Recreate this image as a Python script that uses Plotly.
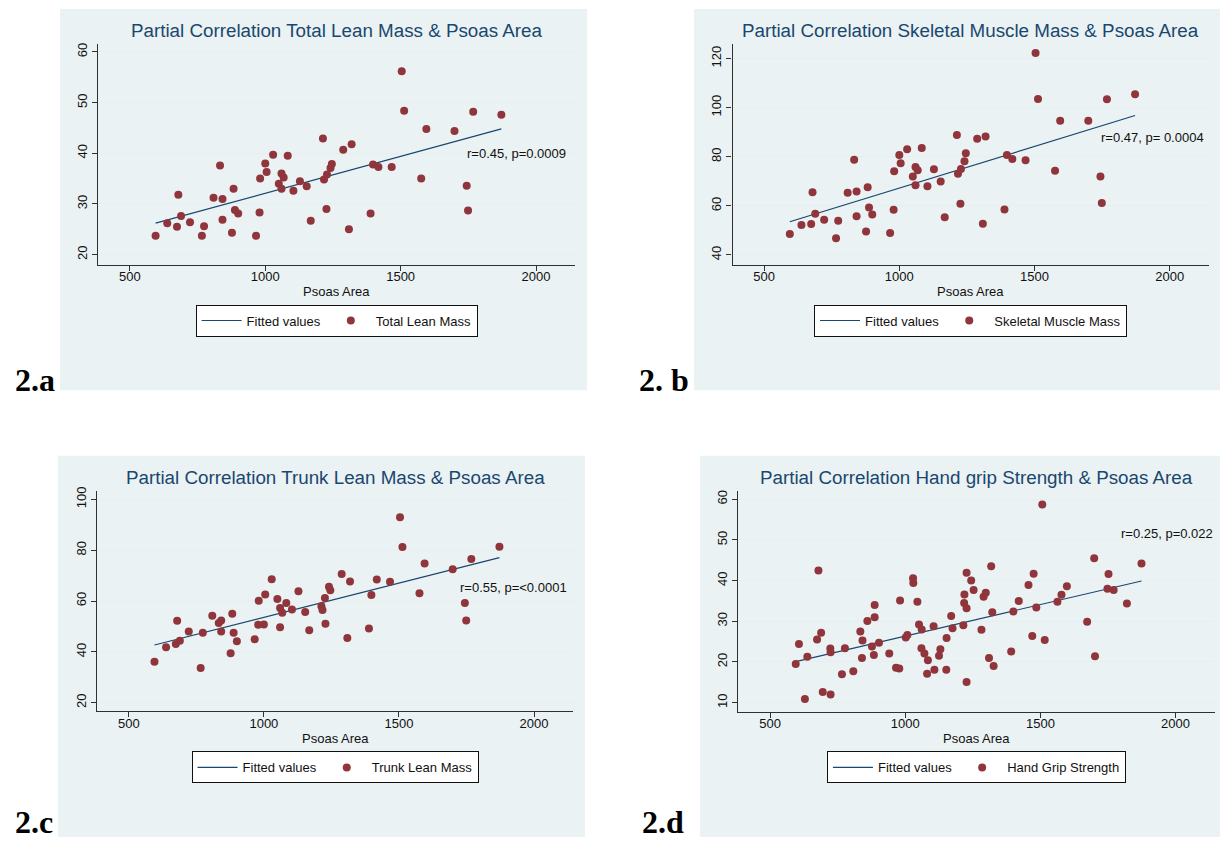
import plotly.graph_objects as go

W, H = 1220, 841

# ---------------- data ----------------
psoas = [595, 638, 674, 679, 689, 722, 766, 774, 809, 833, 842, 842, 877, 883, 888,
         900, 966, 979, 981, 1000, 1005, 1029, 1050, 1060, 1060, 1068, 1083, 1104, 1128, 1153,
         1168, 1213, 1217, 1226, 1228, 1241, 1246, 1288, 1309, 1319, 1389, 1398, 1418, 1467, 1504,
         1513, 1576, 1595, 1699, 1744, 1749, 1768, 1872]

total_lean = [23.7, 26.2, 25.5, 31.8, 27.6, 26.4, 23.7, 25.6, 31.2, 37.6, 31.0, 26.9, 24.3, 33.0, 28.8,
              28.1, 23.7, 28.3, 35.0, 38.0, 36.3, 39.7, 34.0, 36.0, 33.0, 35.2, 39.5, 32.6, 34.5, 33.5,
              26.7, 42.9, 34.8, 29.0, 35.8, 37.1, 37.9, 40.7, 25.0, 41.8, 28.1, 37.8, 37.3, 37.3, 56.2,
              48.4, 35.0, 44.8, 44.4, 33.6, 28.7, 48.2, 47.6]

skeletal = [48.5, 52.2, 52.6, 65.5, 56.8, 54.3, 46.8, 53.9, 65.3, 78.8, 65.8, 55.8, 49.5, 67.6, 59.3,
            56.5, 48.9, 58.4, 74.1, 80.7, 77.3, 83.0, 72.0, 75.8, 68.4, 74.5, 83.6, 68.0, 74.9, 69.9,
            55.4, 88.9, 73.1, 60.8, 75.0, 78.2, 81.4, 87.3, 52.7, 88.2, 58.5, 80.7, 79.1, 78.6, 122.3,
            103.5, 74.3, 94.7, 94.7, 72.0, 61.2, 103.4, 105.5]

trunk = [36.1, 41.8, 43.1, 52.2, 44.4, 48.0, 33.7, 47.5, 54.2, 51.4, 52.3, 48.0, 39.5, 55.0, 47.5,
         44.2, 45.0, 50.7, 60.1, 50.8, 62.6, 68.6, 60.8, 57.3, 49.7, 55.4, 59.2, 56.7, 63.8, 55.7,
         48.5, 57.9, 56.5, 61.2, 51.1, 65.6, 64.2, 70.6, 45.5, 67.7, 49.2, 62.4, 68.5, 67.6, 92.9,
         81.2, 63.1, 74.8, 72.5, 59.2, 52.3, 76.5, 81.3]

psoas_hgs = [595, 607, 629, 638, 674, 679, 689, 695, 723, 724, 724, 766, 777, 808, 834,
             842, 840, 860, 877, 884, 887, 887, 903, 941, 966, 978, 981, 1002, 1008, 1029,
             1030, 1045, 1051, 1060, 1061, 1071, 1081, 1084, 1105, 1108, 1125, 1130, 1153, 1152, 1170,
             1175, 1215, 1218, 1219, 1227, 1227, 1227, 1244, 1253, 1282, 1290, 1298, 1310, 1318, 1322,
             1327, 1392, 1400, 1420, 1456, 1470, 1475, 1485, 1507, 1516, 1563, 1578, 1598, 1673, 1699,
             1702, 1748, 1752, 1771, 1820, 1874]

hgs = [19.5, 24.4, 10.9, 21.3, 25.5, 42.5, 27.2, 12.6, 23.3, 22.4, 12.0, 17.0, 23.4, 17.7, 27.5,
       25.3, 21.0, 30.1, 23.8, 21.7, 31.0, 34.0, 24.7, 22.1, 18.6, 18.4, 35.1, 26.0, 26.6, 40.6,
       39.4, 34.8, 29.2, 23.4, 28.0, 22.1, 17.1, 20.4, 28.8, 18.1, 21.5, 23.1, 25.9, 18.1, 31.3,
       28.3, 29.0, 34.5, 36.6, 33.2, 41.9, 15.1, 40.0, 37.7, 27.9, 36.0, 37.0, 21.0, 43.5, 32.2,
       19.0, 22.6, 32.4, 35.0, 38.9, 26.4, 41.7, 33.4, 58.7, 25.4, 34.8, 36.5, 38.6, 29.9, 45.5,
       21.4, 38.0, 41.6, 37.7, 34.4, 44.2]

# fitted-line end values
fit_total = [26.2, 44.8]
fit_skeletal = [53.5, 96.8]
fit_trunk = [42.7, 77.1]
fit_hgs = [20.1, 39.9]

titles = ["Partial Correlation Total Lean Mass & Psoas Area",
          "Partial Correlation Skeletal Muscle Mass & Psoas Area",
          "Partial Correlation Trunk Lean Mass & Psoas Area",
          "Partial Correlation Hand grip Strength & Psoas Area"]
series_names = ["Total Lean Mass", "Skeletal Muscle Mass", "Trunk Lean Mass", "Hand Grip Strength"]
stats_text = ["r=0.45, p=0.0009", "r=0.47, p= 0.0004", "r=0.55, p=<0.0001", "r=0.25, p=0.022"]
stats_pos = [(1738, 39.9), (1740, 87.8), (1719, 65.4), (1789, 51.5)]
panel_labels = ["2.a", "2. b", "2.c", "2.d"]

x_ticks = [500, 1000, 1500, 2000]
y_ticks = [[20, 30, 40, 50, 60], [40, 60, 80, 100, 120], [20, 40, 60, 80, 100],
           [10, 20, 30, 40, 50, 60]]

# ---------------- layout geometry (pixels) ----------------
plots = [(98.2, 575.0, 40, 262), (732.5, 1208.6, 40, 262),
         (97.2, 572.9, 489, 710.5), (738.4, 1214.5, 489, 711)]
y_ranges = [[18.0, 61.6], [36.0, 126.0], [16.7, 103.4], [7.8, 62.1]]
x_range = [383, 2144]
bgs = [(60, 587, 5, 388), (694, 1220, 5, 388), (58, 585, 454, 837), (700, 1220, 454, 837)]
title_y = [27, 27, 476, 476]
xtitle_y = [289, 289, 738, 738]
legend_top = [302, 302, 751, 751]
label_pos = [(13, 378), (637, 378), (13, 822), (640, 822)]

NAVY = "#1A476F"
MAROON = "#90353B"
BG = "#EAF2F3"
GRID = "#E6EEF0"
AXC = "#303030"
FONT = "Liberation Sans"


def px(x):
    return x / W


def py(y):
    return 1 - y / H


fig = go.Figure()

data_sets = [(psoas, total_lean, fit_total), (psoas, skeletal, fit_skeletal),
             (psoas, trunk, fit_trunk), (psoas_hgs, hgs, fit_hgs)]

shapes = []
annotations = []
layout_axes = {}

for i in range(4):
    xs, ys, fit = data_sets[i]
    sfx = "" if i == 0 else str(i + 1)
    xa = "x" + sfx
    ya = "y" + sfx
    leg = "legend" + sfx
    fx = [min(xs), max(xs)]
    fig.add_trace(go.Scatter(x=fx, y=fit, mode="lines", name="Fitted values",
                             line=dict(color=NAVY, width=1.2), xaxis=xa, yaxis=ya,
                             legend=leg, showlegend=True))
    fig.add_trace(go.Scatter(x=xs, y=ys, mode="markers", name=series_names[i],
                             marker=dict(color=MAROON, size=8, line=dict(width=0)),
                             xaxis=xa, yaxis=ya, legend=leg, showlegend=True))

    l, r, t, b = plots[i]
    layout_axes["xaxis" + sfx] = dict(
        domain=[px(l), px(r)], range=x_range, anchor=ya, tickvals=x_ticks,
        showgrid=False, zeroline=False, showline=True, linecolor=AXC, linewidth=1.2,
        ticks="outside", ticklen=5, tickcolor=AXC, tickwidth=1.2, ticklabelstandoff=-5,
        tickfont=dict(family=FONT, size=13, color="#111111"), fixedrange=True)
    layout_axes["yaxis" + sfx] = dict(
        domain=[py(b), py(t)], range=y_ranges[i], anchor=xa, tickvals=y_ticks[i],
        showgrid=True, gridcolor=GRID, gridwidth=1.2, zeroline=False, showline=True,
        linecolor=AXC, linewidth=1.2, ticks="outside", ticklen=5, tickcolor=AXC,
        tickwidth=1.2, tickangle=-90,
        tickfont=dict(family=FONT, size=13, color="#111111"), fixedrange=True)

    cx = (l + r) / 2
    layout_axes[leg] = dict(
        orientation="h", x=px(cx), y=py(legend_top[i]), xanchor="center", yanchor="top",
        bgcolor="white", bordercolor="#111111", borderwidth=1,
        font=dict(family=FONT, size=13, color="#111111"), traceorder="normal",
        itemwidth=40)

    bl, br, bt, bb = bgs[i]
    shapes.append(dict(type="rect", xref="paper", yref="paper", x0=px(bl), x1=px(br),
                       y0=py(bb), y1=py(bt), fillcolor=BG, line=dict(width=0), layer="below"))

    annotations.append(dict(text=titles[i], xref="paper", yref="paper", x=px(cx),
                            y=py(title_y[i]), xanchor="center", yanchor="middle",
                            showarrow=False, font=dict(family=FONT, size=18.8, color=NAVY)))
    annotations.append(dict(text="Psoas Area", xref="paper", yref="paper", x=px(cx),
                            y=py(xtitle_y[i]), xanchor="center", yanchor="middle",
                            showarrow=False, font=dict(family=FONT, size=13, color="#111111")))
    sx, sy = stats_pos[i]
    annotations.append(dict(text=stats_text[i], xref=xa, yref=ya, x=sx, y=sy,
                            xanchor="left", yanchor="middle", showarrow=False,
                            font=dict(family=FONT, size=13, color="#111111")))
    lx, ly = label_pos[i]
    annotations.append(dict(text="<b>" + panel_labels[i] + "</b>", xref="paper", yref="paper",
                            x=px(lx), y=py(ly), xanchor="left", yanchor="middle",
                            showarrow=False,
                            font=dict(family="Liberation Serif", size=32, color="black")))

fig.update_layout(
    width=W, height=H, margin=dict(l=0, r=0, t=0, b=0),
    paper_bgcolor="white", plot_bgcolor="white",
    shapes=shapes, annotations=annotations, **layout_axes)

fig.write_html("out.html", config={"displayModeBar": False},
               post_script="document.body.style.margin='0';document.body.style.overflow='hidden';")
